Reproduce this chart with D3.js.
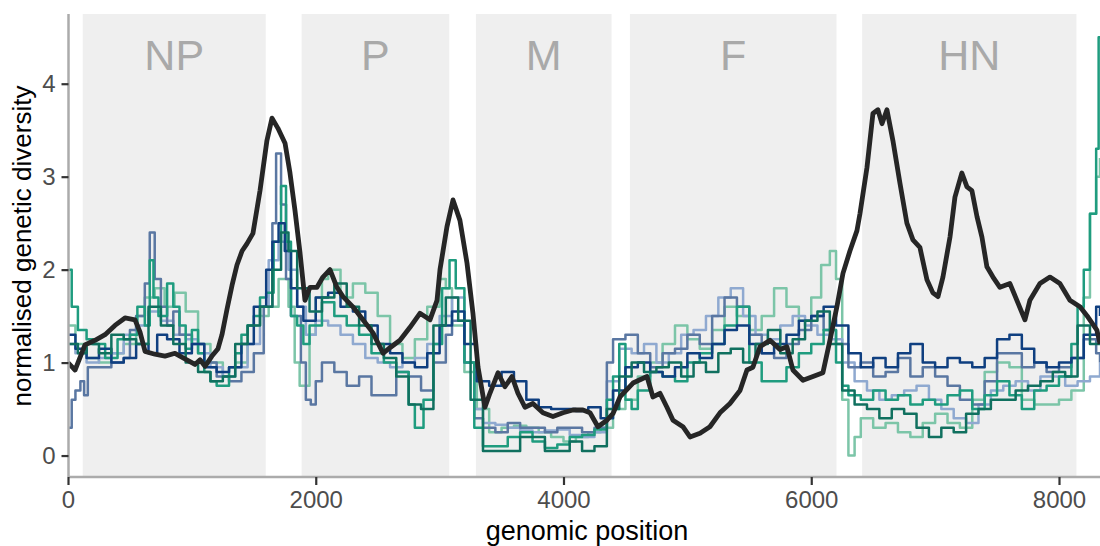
<!DOCTYPE html>
<html>
<head>
<meta charset="utf-8">
<script src="https://cdn.jsdelivr.net/npm/d3@7"></script>
<style>
  body { margin: 0; background: #fff; }
  svg { display: block; font-family: "Liberation Sans", Arial, sans-serif; }
</style>
</head>
<body>
<svg id="chart" width="1100" height="546"></svg>
<script>
// gene regions
const genes = ["NP", "P", "M", "F", "HN"];
const geneStart = [119, 1886, 3293, 4536, 6411];
const geneEnd = [1596, 3078, 4388, 6204, 8141];

const xTicks = [0, 2000, 4000, 6000, 8000];
const yTicks = [0, 1, 2, 3, 4];

// [position, normalised diversity]
const overall = [[0,1.0],[57,0.92],[137,1.19],[218,1.24],[299,1.3],[379,1.4],[460,1.48],[541,1.46],[581,1.33],[622,1.12],
  [702,1.09],[783,1.07],[864,1.1],[944,1.04],[1025,0.98],[1066,1.03],[1106,0.96],[1162,1.07],[1211,1.15],[1243,1.3],
  [1283,1.57],[1324,1.83],[1364,2.05],[1405,2.2],[1445,2.28],[1493,2.39],[1550,2.85],[1606,3.39],[1647,3.63],[1695,3.52],
  [1752,3.36],[1792,3.04],[1832,2.64],[1873,2.18],[1913,1.67],[1953,1.81],[2010,1.81],[2058,1.92],[2115,2.0],[2171,1.81],
  [2220,1.71],[2300,1.6],[2381,1.46],[2462,1.32],[2543,1.1],[2599,1.16],[2680,1.24],[2761,1.38],[2841,1.53],[2922,1.46],
  [2979,1.67],[3003,2.0],[3059,2.46],[3108,2.75],[3164,2.53],[3221,2.07],[3269,1.53],[3310,0.95],[3366,0.52],[3406,0.67],
  [3471,0.89],[3527,0.74],[3584,0.85],[3632,0.67],[3689,0.52],[3753,0.56],[3834,0.46],[3915,0.42],[3996,0.46],[4076,0.49],
  [4157,0.49],[4214,0.46],[4278,0.31],[4351,0.38],[4399,0.45],[4456,0.63],[4561,0.78],[4674,0.85],[4722,0.63],[4779,0.67],
  [4835,0.52],[4884,0.38],[4964,0.31],[5021,0.2],[5102,0.24],[5182,0.31],[5263,0.46],[5344,0.56],[5425,0.7],[5481,0.92],
  [5529,0.95],[5586,1.17],[5667,1.24],[5747,1.14],[5804,1.17],[5852,0.92],[5933,0.81],[6014,0.85],[6094,0.89],[6151,1.24],
  [6207,1.6],[6256,1.96],[6312,2.2],[6369,2.42],[6393,2.6],[6450,3.1],[6498,3.68],[6538,3.72],[6571,3.57],[6611,3.72],
  [6659,3.39],[6716,2.93],[6772,2.5],[6821,2.32],[6877,2.24],[6934,1.89],[6982,1.75],[7023,1.71],[7063,1.92],[7120,2.35],
  [7160,2.78],[7216,3.04],[7257,2.89],[7297,2.85],[7338,2.57],[7378,2.35],[7418,2.03],[7467,1.92],[7523,1.81],[7604,1.85],
  [7660,1.67],[7725,1.46],[7765,1.67],[7846,1.85],[7927,1.92],[8007,1.85],[8088,1.67],[8169,1.6],[8234,1.49],[8306,1.35],[8331,1.2]];

const slate = [[0,0.3],[30,0.6],[60,0.7],[100,0.8],[130,0.65],[160,0.95],[250,0.95],[350,1.0],[450,1.05],[500,1.35],
  [550,1.5],[620,1.85],[660,2.4],[700,1.9],[750,1.6],[800,1.4],[850,1.55],[900,1.3],[1000,1.2],[1100,1.0],[1200,0.85],
  [1300,0.8],[1400,0.9],[1500,1.1],[1580,1.6],[1650,2.5],[1680,3.25],[1720,2.7],[1760,1.9],[1800,1.5],[1880,1.0],
  [1920,0.6],[1960,0.55],[2000,0.8],[2050,1.0],[2150,0.9],[2250,0.75],[2350,0.85],[2450,0.65],[2550,0.65],[2650,0.9],
  [2750,0.85],[2850,0.7],[2950,1.0],[3050,1.3],[3100,1.45],[3200,1.0],[3280,0.4],[3350,0.3],[3450,0.25],[3550,0.35],
  [3650,0.3],[3750,0.3],[3850,0.25],[3950,0.3],[4050,0.3],[4150,0.25],[4250,0.3],[4350,1.0],[4400,1.25],[4500,1.3],
  [4600,1.1],[4700,0.95],[4800,1.1],[4900,1.15],[5000,1.3],[5100,1.2],[5200,1.5],[5300,1.7],[5400,1.6],[5500,1.3],
  [5600,1.1],[5700,1.05],[5800,1.2],[5900,1.35],[6000,1.5],[6100,1.35],[6200,1.2],[6300,0.95],[6400,1.0],[6500,0.85],
  [6600,0.9],[6700,1.05],[6800,0.85],[6900,0.95],[7000,0.85],[7100,0.75],[7200,0.6],[7300,0.55],[7400,0.8],[7500,1.1],
  [7600,1.1],[7700,0.95],[7800,1.0],[7900,0.9],[8000,0.95],[8100,1.05],[8200,1.25],[8300,1.1],[8331,1.0]];

const lightBlue = [[0,1.2],[60,1.1],[150,1.0],[250,1.05],[350,1.1],[450,1.3],[550,1.4],[650,1.55],[750,1.45],[850,1.3],
  [950,1.25],[1050,1.1],[1150,0.95],[1250,0.85],[1350,0.95],[1450,1.2],[1550,1.6],[1620,2.1],[1700,2.3],[1780,2.0],
  [1850,1.6],[1920,1.3],[2000,1.45],[2100,1.4],[2200,1.3],[2300,1.2],[2400,1.05],[2500,1.0],[2600,0.95],[2700,1.0],
  [2800,1.05],[2900,1.2],[3000,1.5],[3100,1.7],[3200,1.0],[3280,0.5],[3350,0.35],[3450,0.33],[3550,0.3],[3650,0.27],
  [3750,0.25],[3850,0.27],[3950,0.28],[4050,0.22],[4150,0.2],[4250,0.25],[4350,0.8],[4450,1.15],[4550,1.1],[4650,1.2],
  [4750,1.0],[4850,1.1],[4950,1.3],[5050,1.35],[5150,1.5],[5250,1.7],[5350,1.8],[5450,1.5],[5550,1.3],[5650,1.25],
  [5750,1.4],[5850,1.5],[5950,1.4],[6050,1.3],[6150,1.25],[6250,1.0],[6350,0.8],[6450,0.7],[6550,0.6],[6650,0.65],
  [6750,0.7],[6850,0.75],[6950,0.6],[7050,0.5],[7150,0.4],[7250,0.35],[7350,0.55],[7450,0.7],[7550,0.75],[7650,0.8],
  [7750,0.7],[7850,0.85],[7950,0.85],[8050,0.75],[8150,0.8],[8250,0.85],[8331,1.0]];

const navy = [[0,1.3],[60,1.15],[150,1.05],[250,1.15],[350,1.0],[450,1.05],[550,1.2],[650,1.1],[720,1.3],[800,1.25],
  [900,1.1],[1000,1.2],[1100,0.95],[1200,0.9],[1300,0.95],[1400,1.2],[1500,1.6],[1600,2.0],[1650,2.3],[1700,2.5],
  [1750,2.2],[1800,1.8],[1850,1.6],[1900,1.45],[2000,1.7],[2100,1.75],[2200,1.6],[2300,1.55],[2400,1.4],[2500,1.2],
  [2600,1.1],[2700,1.0],[2800,0.95],[2900,1.1],[3000,1.4],[3100,1.55],[3200,1.2],[3300,0.8],[3400,0.75],[3500,0.9],
  [3600,0.8],[3700,0.6],[3800,0.52],[3900,0.5],[4000,0.5],[4100,0.48],[4200,0.52],[4300,0.4],[4400,0.7],[4500,0.95],
  [4600,1.0],[4700,0.9],[4800,0.85],[4900,0.95],[5000,1.1],[5100,1.05],[5200,1.2],[5300,1.35],[5400,1.4],[5500,1.2],
  [5600,1.1],[5700,1.2],[5800,1.3],[5900,1.45],[6000,1.5],[6100,1.6],[6200,1.4],[6300,1.1],[6400,0.95],[6500,1.05],
  [6600,0.95],[6700,1.1],[6800,1.2],[6900,1.0],[7000,0.95],[7100,1.05],[7200,1.0],[7300,0.95],[7400,1.05],[7500,1.25],
  [7600,1.3],[7700,1.15],[7800,1.0],[7900,0.95],[8000,1.0],[8100,1.05],[8200,1.3],[8300,1.6],[8331,1.5]];

const teal = [[0,2.0],[30,1.6],[80,1.35],[150,1.25],[200,1.2],[300,1.05],[400,1.25],[500,1.3],[560,1.6],[620,1.4],
  [660,2.1],[690,1.7],[730,1.5],[800,1.85],[850,1.6],[900,1.4],[950,1.15],[1000,1.35],[1050,1.1],[1100,0.9],[1150,0.8],
  [1200,0.75],[1300,0.95],[1350,1.1],[1400,1.3],[1450,1.4],[1500,1.5],[1550,1.7],[1600,1.75],[1660,2.3],[1720,2.9],
  [1760,2.3],[1800,1.5],[1850,1.4],[1900,1.2],[1950,1.4],[2050,1.65],[2150,1.5],[2250,1.4],[2350,1.3],[2450,1.1],
  [2550,1.0],[2650,0.9],[2750,0.55],[2800,0.3],[2870,0.6],[2950,1.2],[3020,1.8],[3080,2.1],[3130,1.8],[3200,1.0],
  [3280,0.3],[3350,0.1],[3450,0.1],[3550,0.2],[3650,0.25],[3750,0.15],[3850,0.08],[3950,0.12],[4050,0.2],[4150,0.22],
  [4250,0.28],[4350,0.6],[4400,0.85],[4450,1.2],[4500,0.6],[4550,0.5],[4600,0.7],[4700,0.9],[4800,0.85],[4900,0.8],
  [5000,1.0],[5100,1.1],[5200,1.2],[5300,1.4],[5400,1.6],[5500,1.0],[5600,0.8],[5700,0.8],[5800,0.95],[5900,1.1],
  [6000,1.2],[6100,1.35],[6200,1.0],[6250,0.75],[6300,0.65],[6400,0.6],[6500,0.7],[6600,0.6],[6700,0.65],[6800,0.55],
  [6900,0.6],[7000,0.55],[7100,0.65],[7200,0.7],[7300,0.5],[7400,0.65],[7500,0.8],[7600,0.65],[7700,0.5],[7800,0.7],
  [7900,0.75],[8000,0.85],[8100,1.2],[8150,1.6],[8200,2.0],[8250,2.6],[8300,3.3],[8320,4.5],[8331,4.5]];

const lightGreen = [[0,1.4],[60,1.2],[150,1.05],[250,1.0],[350,1.1],[450,1.2],[550,1.5],[620,1.7],[700,1.8],[780,1.6],
  [860,1.75],[950,1.55],[1050,1.2],[1150,1.0],[1250,0.85],[1350,1.0],[1450,1.4],[1550,1.5],[1620,1.6],[1700,1.9],
  [1780,1.6],[1830,1.0],[1870,0.75],[1950,1.3],[2000,1.7],[2050,1.9],[2100,2.0],[2200,1.7],[2300,1.85],[2400,1.75],
  [2500,1.5],[2600,1.2],[2700,1.05],[2800,1.25],[2900,1.6],[3000,1.9],[3050,1.8],[3100,1.4],[3200,0.9],[3300,0.5],
  [3400,0.25],[3500,0.3],[3600,0.32],[3700,0.3],[3800,0.25],[3900,0.2],[4000,0.15],[4100,0.2],[4200,0.25],[4300,0.3],
  [4400,0.5],[4500,0.6],[4600,0.85],[4700,1.0],[4800,1.2],[4900,1.4],[5000,1.25],[5100,1.15],[5200,1.35],[5300,1.6],
  [5400,1.5],[5500,1.35],[5600,1.5],[5700,1.8],[5800,1.6],[5900,1.45],[6000,1.7],[6080,2.05],[6150,2.2],[6200,1.9],
  [6250,0.6],[6300,0.0],[6350,0.2],[6400,0.4],[6500,0.3],[6600,0.35],[6700,0.25],[6800,0.2],[6900,0.35],[7000,0.45],
  [7100,0.35],[7200,0.3],[7300,0.6],[7400,0.9],[7500,1.0],[7600,0.95],[7700,0.6],[7800,0.55],[7900,0.55],[8000,0.6],
  [8100,0.7],[8200,1.7],[8250,2.6],[8300,3.0],[8331,3.2]];

const darkTeal = [[0,1.2],[80,1.1],[150,1.2],[250,1.1],[350,1.3],[450,1.25],[550,1.2],[650,1.6],[750,1.4],[850,1.2],
  [950,1.0],[1050,0.9],[1150,0.8],[1250,0.85],[1350,1.2],[1450,1.4],[1550,1.6],[1650,2.0],[1720,2.4],[1780,2.2],
  [1850,1.8],[1950,1.55],[2050,1.7],[2150,1.85],[2250,1.6],[2350,1.4],[2450,1.2],[2550,1.05],[2650,0.85],[2750,0.55],
  [2850,0.5],[2950,1.4],[3050,1.7],[3150,1.45],[3250,0.6],[3350,0.05],[3450,0.05],[3550,0.05],[3650,0.2],[3750,0.2],
  [3850,0.05],[3950,0.05],[4050,0.15],[4150,0.05],[4250,0.1],[4350,0.5],[4450,0.85],[4550,1.0],[4650,0.9],[4750,0.95],
  [4850,1.0],[4950,0.85],[5050,1.0],[5150,0.9],[5250,1.1],[5350,1.15],[5450,1.0],[5550,1.2],[5650,1.35],[5750,1.1],
  [5850,1.25],[5950,1.45],[6050,1.55],[6150,1.2],[6250,0.7],[6350,0.55],[6450,0.5],[6550,0.4],[6650,0.5],[6750,0.45],
  [6850,0.3],[6950,0.2],[7050,0.3],[7150,0.25],[7250,0.45],[7350,0.5],[7450,0.6],[7550,0.6],[7650,0.7],[7750,0.75],
  [7850,0.8],[7950,0.9],[8050,0.85],[8150,1.4],[8250,1.2],[8331,1.3]];

const subsets = [
  {data: lightGreen, colour: "#7cc5a8"},
  {data: lightBlue, colour: "#8fa9d0"},
  {data: slate, colour: "#5a77a2"},
  {data: teal, colour: "#1f9c7f"},
  {data: navy, colour: "#0f3f80"},
  {data: darkTeal, colour: "#10705f"}
];

const svg = d3.select("#chart");
const x = d3.scaleLinear().domain([0, 8331]).range([68, 1100]);
const y = d3.scaleLinear().domain([-0.22, 4.75]).range([476, 14]);

// gene boxes
svg.append("g").selectAll("rect")
  .data(genes)
  .join("rect")
  .attr("x", (d, i) => x(geneStart[i]))
  .attr("width", (d, i) => x(geneEnd[i]) - x(geneStart[i]))
  .attr("y", 14)
  .attr("height", 462)
  .attr("fill", "#efefef");

svg.append("g").selectAll("text")
  .data(genes)
  .join("text")
  .attr("x", (d, i) => (x(geneStart[i]) + x(geneEnd[i])) / 2)
  .attr("y", 70)
  .attr("text-anchor", "middle")
  .attr("font-size", 43)
  .attr("fill", "#a9a9a9")
  .text(d => d);

const stepLine = d3.line()
  .x(d => x(d[0]))
  .y(d => y(d[1]))
  .curve(d3.curveStepAfter);

const plotArea = svg.append("g");
plotArea.append("defs").append("clipPath").attr("id", "clip")
  .append("rect").attr("x", 68).attr("y", 14).attr("width", 1032).attr("height", 462);

const lines = plotArea.append("g").attr("clip-path", "url(#clip)");
lines.selectAll("path.sub")
  .data(subsets)
  .join("path")
  .attr("class", "sub")
  .attr("d", d => stepLine(d.data))
  .attr("fill", "none")
  .attr("stroke", d => d.colour)
  .attr("stroke-width", 2.5)
  .attr("stroke-linejoin", "round");

lines.append("path")
  .datum(overall)
  .attr("d", d3.line().x(d => x(d[0])).y(d => y(d[1])))
  .attr("fill", "none")
  .attr("stroke", "#262626")
  .attr("stroke-width", 4.8)
  .attr("stroke-linejoin", "round");

// axes
const xAxis = svg.append("g")
  .attr("transform", "translate(0,477)")
  .call(d3.axisBottom(x).tickValues(xTicks).tickSize(8).tickPadding(6).tickFormat(d3.format("d")));
const yAxis = svg.append("g")
  .attr("transform", "translate(68.5,0)")
  .call(d3.axisLeft(y).tickValues(yTicks).tickSize(7).tickPadding(6).tickFormat(d3.format("d")));

[xAxis, yAxis].forEach(a => {
  a.select(".domain").attr("stroke", "#ababab").attr("stroke-width", 2.5);
  a.selectAll(".tick line").attr("stroke", "#333").attr("stroke-width", 2.2);
  a.selectAll(".tick text").attr("fill", "#4d4d4d").attr("font-size", 24)
    .attr("font-family", "Liberation Sans, Arial, sans-serif");
});
yAxis.select(".domain").attr("d", "M0,14V477");
xAxis.select(".domain").attr("d", "M68,0H1100");

svg.append("text")
  .attr("x", 587).attr("y", 540)
  .attr("text-anchor", "middle")
  .attr("font-size", 27)
  .text("genomic position");

svg.append("text")
  .attr("transform", "translate(31,246) rotate(-90)")
  .attr("text-anchor", "middle")
  .attr("font-size", 26)
  .text("normalised genetic diversity");
</script>
</body>
</html>
